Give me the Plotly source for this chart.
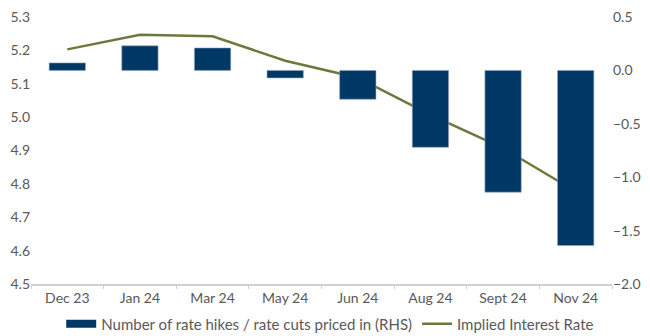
import plotly.graph_objects as go

categories = ["Dec 23", "Jan 24", "Mar 24", "May 24", "Jun 24", "Aug 24", "Sept 24", "Nov 24"]
rate_moves = [0.07, 0.23, 0.21, -0.07, -0.27, -0.72, -1.14, -1.64]
implied_rate = [5.203, 5.247, 5.242, 5.169, 5.118, 5.007, 4.907, 4.777]

navy = "#003865"
olive = "#6b7a3c"
grey = "#595959"
bar_name = "Number of rate hikes / rate cuts priced in (RHS)"

fig = go.Figure()
fig.add_trace(go.Bar(
    x=categories, y=rate_moves, yaxis="y2",
    name=bar_name, showlegend=False,
    marker=dict(color=navy, line=dict(color="#8fa6c0", width=0.6)),
    width=0.5,
))
# legend-only entry with a wide rectangular swatch
fig.add_trace(go.Scatter(
    x=[None], y=[None], yaxis="y2", mode="lines", name=bar_name,
    line=dict(color=navy, width=8),
))
fig.add_trace(go.Scatter(
    x=categories, y=implied_rate, yaxis="y",
    name="Implied Interest Rate", mode="lines",
    line=dict(color=olive, width=2.5),
))

fig.update_layout(
    width=650, height=336,
    margin=dict(l=31, r=38, t=17, b=52, autoexpand=False),
    paper_bgcolor="white", plot_bgcolor="white",
    font=dict(family="Lato", size=14, color=grey),
    showlegend=True,
    legend=dict(orientation="h", x=0.515, xanchor="center", y=-0.088, yanchor="top",
                font=dict(size=15, color=grey), traceorder="normal",
                itemwidth=30, tracegroupgap=0),
    xaxis=dict(type="category", showline=True, linecolor="#d0d0d0", linewidth=1.5,
               ticks="outside", tickson="boundaries", ticklen=3, tickcolor="#d0d0d0",
               showgrid=False, tickfont=dict(size=14, color=grey)),
    yaxis=dict(range=[4.5, 5.3], dtick=0.1, tickformat=".1f", showgrid=False,
               zeroline=False, showline=False, ticks="", tickfont=dict(size=14, color=grey)),
    yaxis2=dict(range=[-2.0, 0.5], dtick=0.5, tickformat=".1f", overlaying="y", side="right",
                showgrid=False, zeroline=False, showline=False, ticks="",
                tickfont=dict(size=14, color=grey)),
    bargap=0.5,
)

fig.write_html("out.html")
